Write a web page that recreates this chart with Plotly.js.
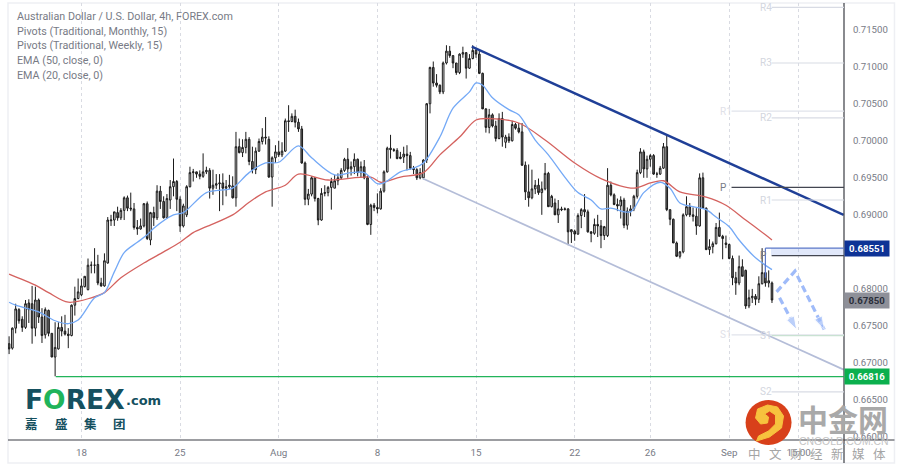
<!DOCTYPE html>
<html><head><meta charset="utf-8">
<script src="https://cdn.plot.ly/plotly-3.0.1.min.js"></script>
<style>html,body{margin:0;padding:0;background:#fff}#c{width:903px;height:472px}</style>
</head><body><div id="c"></div>
<script>
const open=[.6726,.6720,.6747,.6772,.6759,.6748,.6781,.6780,.6747,.6785,.6762,.6738,.6771,.6740,.6708,.6719,.6748,.6743,.6739,.6737,.6778,.6787,.6792,.6803,.6799,.6832,.6832,.6833,.6808,.6804,
.6835,.6892,.6893,.6903,.6896,.6906,.6923,.6909,.6908,.6883,.6881,.6885,.6915,.6866,.6903,.6896,.6932,.6918,.6896,.6920,.6938,.6945,.6921,.6885,.6900,.6938,.6957,.6958,.6955,.6952,
.6958,.6960,.6936,.6940,.6942,.6943,.6936,.6938,.6939,.6923,.6992,.6984,.6991,.7002,.6972,.6961,.6986,.6999,.7005,.7002,.6951,.6977,.6985,.6981,.6986,.7027,.7026,.7033,.7025,.7016,
.6970,.6921,.6928,.6950,.6922,.6893,.6929,.6930,.6937,.6936,.6946,.6950,.6960,.6975,.6962,.6965,.6975,.6957,.6965,.6950,.6887,.6913,.6910,.6908,.6932,.6958,.6990,.6988,.6987,.6976,
.6978,.6982,.6980,.6963,.6961,.6950,.6950,.6974,.7050,.7099,.7078,.7075,.7066,.7105,.7121,.7115,.7105,.7092,.7117,.7119,.7098,.7111,.7122,.7117,.7091,.7043,.7018,.7035,.7020,.7003,
.7030,.6998,.7005,.7000,.7022,.7017,.7012,.6967,.6931,.6923,.6935,.6940,.6930,.6935,.6956,.6911,.6916,.6900,.6908,.6907,.6908,.6877,.6878,.6874,.6899,.6907,.6904,.6877,.6875,.6887,
.6885,.6872,.6872,.6940,.6927,.6914,.6912,.6920,.6886,.6905,.6908,.6925,.6957,.6985,.6962,.6975,.6980,.6955,.6955,.6963,.6992,.6907,.6894,.6862,.6844,.6850,.6900,.6911,.6900,.6898,
.6885,.6950,.6909,.6853,.6857,.6861,.6883,.6871,.6862,.6860,.6841,.6815,.6808,.6830,.6825,.6777,.6788,.6790,.6786,.6807,.6822,.6808,.6808];
const high=[.6736,.6748,.6780,.6774,.6763,.6785,.6786,.6804,.6803,.6787,.6774,.6775,.6772,.6740,.6755,.6755,.6763,.6765,.6747,.6779,.6803,.6814,.6814,.6817,.6841,.6837,.6855,.6846,.6815,.6848,
.6897,.6900,.6904,.6911,.6909,.6925,.6926,.6930,.6916,.6893,.6895,.6916,.6918,.6904,.6911,.6940,.6939,.6925,.6928,.6947,.6976,.6947,.6925,.6915,.6940,.6965,.6962,.6958,.6960,.6983,
.6965,.6963,.6961,.6955,.6955,.6956,.6947,.6954,.6952,.7012,.7003,.7002,.7012,.7005,.6992,.6991,.7003,.7017,.7032,.7006,.6979,.6994,.7000,.6998,.7030,.7048,.7037,.7042,.7030,.7020,
.6972,.6935,.6952,.6951,.6923,.6936,.6940,.6939,.6950,.6954,.6956,.6963,.6977,.6990,.6972,.6983,.6976,.6972,.6974,.6953,.6915,.6916,.6929,.6936,.6960,.6992,.7008,.6990,.6990,.6985,
.6992,.6994,.6985,.6966,.6963,.6963,.6975,.7051,.7100,.7107,.7090,.7076,.7107,.7129,.7128,.7115,.7105,.7118,.7127,.7118,.7117,.7129,.7125,.7122,.7092,.7044,.7043,.7037,.7027,.7037,
.7039,.7008,.7010,.7027,.7024,.7024,.7024,.6972,.6968,.6961,.6947,.6949,.6945,.6970,.6958,.6927,.6922,.6920,.6911,.6910,.6909,.6880,.6880,.6902,.6909,.6928,.6907,.6878,.6895,.6900,
.6893,.6885,.6963,.6945,.6929,.6922,.6925,.6923,.6910,.6913,.6927,.6961,.6990,.6988,.6980,.6982,.6982,.6958,.6966,.6997,.7008,.6907,.6895,.6864,.6851,.6902,.6925,.6916,.6910,.6909,
.6956,.6957,.6910,.6867,.6864,.6889,.6903,.6873,.6872,.6861,.6845,.6823,.6845,.6840,.6826,.6799,.6800,.6793,.6817,.6855,.6835,.6825,.6810];
const low=[.6712,.6718,.6740,.6753,.6742,.6746,.6754,.6726,.6736,.6754,.6727,.6733,.6736,.6708,.6682,.6718,.6736,.6737,.6720,.6736,.6764,.6786,.6790,.6802,.6798,.6821,.6821,.6805,.6803,.6803,
.6834,.6885,.6885,.6892,.6893,.6893,.6905,.6905,.6880,.6873,.6880,.6883,.6866,.6859,.6885,.6893,.6908,.6895,.6895,.6908,.6925,.6905,.6877,.6883,.6897,.6937,.6945,.6950,.6948,.6950,
.6955,.6922,.6927,.6935,.6905,.6913,.6925,.6935,.6922,.6911,.6983,.6978,.6983,.6967,.6956,.6955,.6985,.6995,.6995,.6950,.6911,.6970,.6978,.6978,.6985,.7012,.7025,.7018,.7012,.6969,
.6913,.6913,.6925,.6918,.6886,.6892,.6925,.6925,.6907,.6936,.6940,.6948,.6958,.6950,.6953,.6955,.6952,.6950,.6948,.6886,.6873,.6905,.6902,.6907,.6930,.6957,.6976,.6985,.6975,.6975,
.6970,.6960,.6961,.6955,.6947,.6948,.6948,.6970,.7037,.7073,.7072,.7063,.7063,.7103,.7112,.7098,.7089,.7090,.7112,.7084,.7097,.7110,.7112,.7090,.7043,.7011,.7010,.7018,.6999,.7002,
.6992,.6990,.6997,.6999,.7015,.7010,.6966,.6920,.6911,.6921,.6928,.6927,.6900,.6933,.6911,.6910,.6905,.6889,.6905,.6906,.6859,.6862,.6865,.6873,.6882,.6897,.6876,.6863,.6873,.6870,
.6855,.6866,.6870,.6925,.6913,.6905,.6895,.6882,.6880,.6898,.6905,.6922,.6955,.6950,.6950,.6965,.6954,.6950,.6954,.6962,.6905,.6886,.6862,.6843,.6841,.6848,.6898,.6897,.6891,.6873,
.6884,.6908,.6853,.6846,.6848,.6860,.6870,.6840,.6855,.6840,.6805,.6792,.6805,.6817,.6773,.6774,.6781,.6778,.6781,.6806,.6803,.6802,.6781];
const close=[.6719,.6747,.6773,.6757,.6748,.6780,.6772,.6747,.6785,.6762,.6737,.6772,.6740,.6708,.6721,.6748,.6743,.6739,.6737,.6778,.6787,.6796,.6804,.6817,.6832,.6832,.6832,.6808,.6804,.6838,
.6893,.6893,.6904,.6896,.6906,.6923,.6909,.6908,.6883,.6881,.6885,.6915,.6868,.6903,.6896,.6932,.6918,.6896,.6922,.6938,.6945,.6921,.6885,.6912,.6938,.6957,.6958,.6955,.6952,.6958,
.6960,.6936,.6940,.6942,.6943,.6936,.6938,.6940,.6923,.6992,.6984,.6991,.7002,.6972,.6961,.6986,.6999,.7005,.7004,.6951,.6977,.6985,.6981,.6986,.7027,.7026,.7033,.7025,.7016,.6970,
.6921,.6928,.6950,.6922,.6893,.6929,.6930,.6937,.6945,.6946,.6950,.6960,.6975,.6962,.6965,.6975,.6957,.6965,.6950,.6887,.6913,.6910,.6908,.6932,.6958,.6990,.6988,.6987,.6976,.6978,
.6982,.6980,.6963,.6961,.6950,.6957,.6974,.7050,.7099,.7078,.7075,.7066,.7105,.7121,.7115,.7105,.7092,.7117,.7119,.7098,.7111,.7122,.7117,.7091,.7043,.7018,.7035,.7020,.7003,.7030,
.7005,.7005,.7000,.7022,.7017,.7012,.6967,.6931,.6923,.6935,.6940,.6930,.6935,.6956,.6911,.6925,.6900,.6908,.6907,.6908,.6877,.6880,.6874,.6899,.6907,.6904,.6877,.6875,.6887,.6885,
.6872,.6884,.6940,.6927,.6914,.6912,.6920,.6886,.6905,.6908,.6925,.6957,.6985,.6962,.6975,.6980,.6955,.6955,.6963,.6992,.6907,.6894,.6862,.6844,.6850,.6900,.6911,.6900,.6898,.6885,
.6950,.6909,.6853,.6857,.6861,.6883,.6871,.6868,.6860,.6841,.6815,.6808,.6830,.6817,.6777,.6788,.6790,.6786,.6807,.6822,.6808,.6811,.6785];

const ema50Idx=[0,8,12,18,25,29,34,41,47,52,56,60,68,73,78,84,88,97,110,113,119,126,131,137,142,146,155,163,172,180,190,195,199,204,212,218,224,230,232];
const ema50=[.6820,.6805,.6795,.6782,.6788,.6795,.6815,.6835,.6850,.6863,.6876,.6884,.6900,.6917,.6931,.6940,.6955,.6947,.6951,.6944,.6951,.6957,.6981,.7005,.7028,.7030,.7024,.7001,.6970,.6949,.6936,.6943,.6946,.6931,.6924,.6913,.6893,.6873,.6866];
const ema20Idx=[0,2,9,14,18,21,26,29,32,35,39,42,44,50,53,60,66,68,73,78,82,88,92,99,104,108,112,114,119,123,126,131,135,140,142,144,147,152,155,160,164,169,173,177,180,183,189,193,198,201,204,208,212,215,219,222,227,232];
const ema20=[.6782,.6778,.6769,.6757,.6753,.6758,.6788,.6795,.6823,.6849,.6863,.6873,.6882,.6900,.6903,.6930,.6934,.6936,.6957,.6970,.6971,.6993,.6977,.6954,.6957,.6957,.6942,.6943,.6958,.6963,.6970,.7005,.7044,.7066,.7078,.7075,.7058,.7042,.7035,.7001,.6981,.6951,.6930,.6920,.6908,.6909,.6904,.6930,.6944,.6936,.6916,.6911,.6907,.6897,.6884,.6866,.6842,.6826];

const tickIdx=[22,52,82,112,142,172,195,219,240.1];
const tickLabels=['18','25','Aug','8','15','22','26','Sep','15:00'];
const priceTicks=[.66,.665,.67,.675,.68,.69,.695,.70,.705,.71,.715];
const legendLines=['Australian Dollar / U.S. Dollar, 4h, FOREX.com','Pivots (Traditional, Monthly, 15)','Pivots (Traditional, Weekly, 15)','EMA (50, close, 0)','EMA (20, close, 0)'];

const resistX=[140.7,253.8], resistY=[.7127,.6900];
const supportX=[125.8,253.8], supportY=[.6949,.6691];
const pathAX=[233.4,239,247.9], pathAY=[.6796,.6824,.6745];
const pathBX=[234.3,239.5], pathBY=[.6788,.6745];
const lowLevel=.66816, highLevel=.68551, lastPrice=.6785;
const xEnd=253.9;
const monthlyStart=219.7, weeklyStart=231.9;
const monthlyPivots=[['R1',.7040,'#e0e3eb'],['P',.6937,'#434651'],['S1',.6738,'#e0e3eb']];
const weeklyPivots=[['R4',.7180,'#d8dbe4'],['R3',.7105,'#d8dbe4'],['R2',.7031,'#d8dbe4'],['R1',.6920,'#d8dbe4'],['P',.6845,'#434651'],['S1',.6737,'#c9e2d2'],['S2',.6661,'#d8dbe4']];

const W=903,H=472,L=8,R=844.5,T=3,B=440;
const px=x=>(x-L)/(R-L), py=y=>(B-y)/(B-T);
const GREY='#787b86', UI='Roboto, sans-serif';
const blueDash='#9fbbf9';

const traces=[
 {type:'candlestick',x:open.map((_,i)=>i),open,high,low,close,whiskerwidth:0,hoverinfo:'skip',showlegend:false,
  increasing:{line:{color:'#1a1a1a',width:1},fillcolor:'#f4f4f4'},
  decreasing:{line:{color:'#1a1a1a',width:1},fillcolor:'#6a6a6a'}},
 {type:'scatter',mode:'lines',x:ema50Idx,y:ema50,line:{color:'#d4625f',width:1.3,shape:'spline',smoothing:0.9},hoverinfo:'skip',showlegend:false},
 {type:'scatter',mode:'lines',x:ema20Idx,y:ema20,line:{color:'#74a9f6',width:1.3,shape:'spline',smoothing:0.9},hoverinfo:'skip',showlegend:false},
 {type:'scatter',mode:'lines',x:supportX,y:supportY,line:{color:'#b4bdd8',width:1.7},hoverinfo:'skip',showlegend:false},
 {type:'scatter',mode:'lines',x:resistX,y:resistY,line:{color:'#1f3f97',width:2.4},hoverinfo:'skip',showlegend:false},
 {type:'scatter',mode:'lines+markers',x:pathAX,y:pathAY,line:{color:blueDash,width:3.2,dash:'7px,4px'},
  marker:{symbol:['circle','circle','arrow'],size:[0,0,14],color:blueDash,angleref:'previous'},hoverinfo:'skip',showlegend:false},
 {type:'scatter',mode:'lines+markers',x:pathBX,y:pathBY,line:{color:blueDash,width:3.2,dash:'7px,4px'},
  marker:{symbol:['circle','arrow'],size:[0,14],color:blueDash,angleref:'previous'},hoverinfo:'skip',showlegend:false}
];

const shapes=[
 {type:'rect',xref:'paper',yref:'paper',x0:px(8),x1:px(895),y0:py(463),y1:py(3),line:{color:'#eeeff3',width:1.5},layer:'below'},
 {type:'line',xref:'paper',yref:'paper',x0:px(8),x1:px(895),y0:0,y1:0,line:{color:'#3a3c44',width:1.2}},
 {type:'line',xref:'paper',yref:'paper',x0:1,x1:1,y0:py(463),y1:py(3),line:{color:'#3a3c44',width:1.2}},
 {type:'line',x0:14.2,x1:xEnd,y0:lowLevel,y1:lowLevel,line:{color:'#22b45a',width:1.2}},
 {type:'rect',x0:231.7,x1:xEnd,y0:.6845,y1:highLevel,fillcolor:'rgba(120,150,230,.22)',line:{width:0}},
 {type:'line',x0:230,x1:xEnd,y0:highLevel,y1:highLevel,line:{color:'#5b78c8',width:1.2}},
 {type:'line',x0:230,x1:230,y0:.6815,y1:highLevel,line:{color:'#5b78c8',width:1.2}}
];
monthlyPivots.forEach(p=>shapes.push({type:'line',x0:monthlyStart,x1:xEnd,y0:p[1],y1:p[1],line:{color:p[2],width:1.2}}));
weeklyPivots.forEach(p=>shapes.push({type:'line',x0:weeklyStart,x1:xEnd,y0:p[1],y1:p[1],line:{color:p[2],width:1.2}}));

const pPath=pts=>pts.map((c,i)=>(i?'L':'M')+px(c[0])+' '+py(c[1])).join(' ');
shapes.push({type:'circle',xref:'paper',yref:'paper',x0:px(746),x1:px(792),y0:py(445),y1:py(400),fillcolor:'#d8401a',line:{width:0},layer:'above'});
const swirl=[[757,441],[770,437],[782,428],[784,416],[778,407],[768,405],[758,409],[756,418],[761,424],[768,423],[769,417],[765,414],[770,411],[776,415],[776,424],[769,431],[759,436]];
shapes.push({type:'path',xref:'paper',yref:'paper',path:pPath(swirl)+' Z',fillcolor:'#f7c23e',line:{color:'#f7c23e',width:1},layer:'above'});

const anns=[];
legendLines.forEach((t,i)=>anns.push({xref:'paper',yref:'paper',x:px(14.6),y:py(16.5+14.7*i),xanchor:'left',yanchor:'middle',showarrow:false,text:t,font:{family:UI,size:10.75,color:GREY}}));
function pivotLabel(price,i,text,color){anns.push({x:i,y:price,xanchor:'left',yanchor:'middle',xshift:-14,showarrow:false,text,font:{family:UI,size:10,color}});}
monthlyPivots.forEach(p=>pivotLabel(p[1],monthlyStart,p[0],p[0]=='P'?GREY:'#dfe1e8'));
weeklyPivots.forEach(p=>pivotLabel(p[1],weeklyStart,p[0],p[0]=='P'?GREY:'#d3d6de'));
function tag(y,text,bg,fg,h){anns.push({xref:'paper',x:px(845),xanchor:'left',yref:'y',y,yanchor:'middle',showarrow:false,text:'<b>'+text+'</b>',font:{family:UI,size:9.6,color:fg},bgcolor:bg,width:44,height:h,borderpad:0,align:'center'});}
tag(highLevel,highLevel.toFixed(5),'#0e3396','#fff',14.5);
tag(lastPrice,lastPrice.toFixed(5),'#8e9099','#2a2e39',14.5);
tag(lowLevel,lowLevel.toFixed(5),'#0bb04e','#fff',14.5);
const paperText=(x,y,t,size,color,fam,anchor)=>anns.push({xref:'paper',yref:'paper',x:px(x),y:py(y),xanchor:anchor||'left',yanchor:'middle',showarrow:false,text:t,font:{family:fam,size,color}});
paperText(23,399.5,'<b>F<span style="color:#1fb45b">O</span>REX</b>',26.5,'#15505f','"DejaVu Sans"');
paperText(124,400.5,'<b>.com</b>',13,'#15505f','"DejaVu Sans"');
[['嘉',32],['盛',62],['集',91],['团',120]].forEach(c=>paperText(c[1],423,'<b>'+c[0]+'</b>',12.5,'#15505f','"Noto Sans CJK SC"','center'));
paperText(796,418,'<b>中金网</b>',30,'#a9a9a9','"Noto Sans CJK SC"');
paperText(797,441,'CNGOLD.COM.CN',10.4,'#c4c4c4','"Liberation Sans"');
['中','文','财','经','新','媒','体'].forEach((c,i)=>paperText(755+20.8*i,454,c,12.5,'#a5a5a5','"Noto Sans CJK SC"','center'));

Plotly.newPlot('c',traces,{
 width:W,height:H,margin:{l:L,r:W-R,t:T,b:H-B,pad:0},paper_bgcolor:'#fff',plot_bgcolor:'#fff',showlegend:false,
 xaxis:{range:[-0.33,xEnd],tickmode:'array',tickvals:tickIdx,ticktext:tickLabels,showgrid:true,gridcolor:'#d9dbe2',griddash:'dot',gridwidth:1,
  zeroline:false,showline:false,ticks:'outside',ticklen:3,tickcolor:'rgba(0,0,0,0)',tickfont:{family:UI,size:9.8,color:GREY},rangeslider:{visible:false},fixedrange:true},
 yaxis:{side:'right',range:[.6596,.7186],tickmode:'array',tickvals:priceTicks,ticktext:priceTicks.map(v=>v.toFixed(5)),showgrid:false,zeroline:false,showline:false,
  ticks:'outside',ticklen:6,tickcolor:'rgba(0,0,0,0)',tickfont:{family:UI,size:9.6,color:GREY},fixedrange:true},
 shapes,annotations:anns
},{staticPlot:true,displayModeBar:false});
</script></body></html>
